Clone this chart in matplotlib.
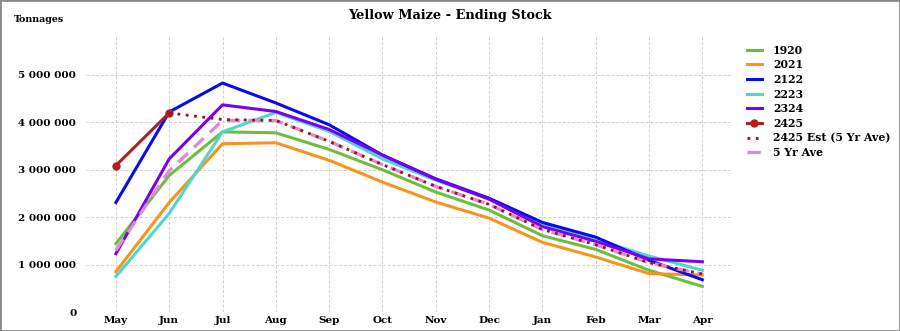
import matplotlib
matplotlib.use("Agg")
import matplotlib.pyplot as plt
from matplotlib.patches import Rectangle
import numpy as np

months = ["May", "Jun", "Jul", "Aug", "Sep", "Oct", "Nov", "Dec", "Jan", "Feb", "Mar", "Apr"]

s1920 = [1440000, 2880000, 3800000, 3780000, 3430000, 3000000, 2530000, 2150000, 1610000, 1320000, 880000, 540000]
s2021 = [850000, 2310000, 3550000, 3570000, 3200000, 2740000, 2320000, 1980000, 1470000, 1160000, 810000, 780000]
s2122 = [2310000, 4220000, 4830000, 4410000, 3950000, 3310000, 2810000, 2400000, 1890000, 1580000, 1090000, 680000]
s2223 = [750000, 2080000, 3800000, 4210000, 3810000, 3230000, 2780000, 2390000, 1850000, 1530000, 1180000, 880000]
s2324 = [1230000, 3230000, 4370000, 4230000, 3850000, 3310000, 2800000, 2380000, 1800000, 1490000, 1120000, 1060000]
s2425 = [3090000, 4200000]
s2425_est = [None, 4200000, 4060000, 4040000, 3600000, 3110000, 2650000, 2270000, 1740000, 1420000, 1040000, 800000]
s5yr = [1300000, 2980000, 4040000, 4040000, 3600000, 3110000, 2650000, 2270000, 1740000, 1420000, 1040000, 800000]

yticks = [0, 1000000, 2000000, 3000000, 4000000, 5000000]

fig = plt.figure(figsize=(9, 3.31), dpi=100)
ax = fig.add_axes([0.0956, 0.0574, 0.7174, 0.8306])

x = np.arange(len(months))
lw = 2.2
ax.plot(x, s1920, color="#6cbf3c", lw=lw, label="1920", zorder=3)
ax.plot(x, s2021, color="#f7941d", lw=lw, label="2021", zorder=3)
ax.plot(x, s2122, color="#0a0aee", lw=lw, label="2122", zorder=4)
ax.plot(x, s2223, color="#4fd6cf", lw=lw, label="2223", zorder=3)
ax.plot(x, s2324, color="#7a00f0", lw=lw, label="2324", zorder=4)
ax.plot(x[:len(s2425)], s2425, color="#b0201f", lw=lw, marker="o", ms=5, label="2425", zorder=6)
est_x = [i for i, v in enumerate(s2425_est) if v is not None]
est_y = [v for v in s2425_est if v is not None]
ax.plot(est_x, est_y, color="#a01010", lw=2.0, ls=(0, (1, 2)), label="2425 Est (5 Yr Ave)", zorder=6)
ax.plot(x, s5yr, color="#e08ad2", lw=2.4, ls=(0, (4, 2.5)), label="5 Yr Ave", zorder=5)

ax.set_xlim(-0.56, 11.55)
ax.set_ylim(0, 5800000)
ax.set_xticks(x)
ax.set_xticklabels(months)
ax.set_yticks(yticks)
ax.set_yticklabels([f"{v:,}".replace(",", " ") for v in yticks])

font = "DejaVu Serif"
for lab in ax.get_xticklabels() + ax.get_yticklabels():
    lab.set_fontfamily(font)
    lab.set_fontweight("bold")
    lab.set_fontsize(7.5)

ax.tick_params(axis="x", length=0, pad=3)
ax.tick_params(axis="y", length=0, pad=7)
ax.grid(True, color="#d0d0d0", ls=(0, (3, 2)), lw=0.7)
for sp in ax.spines.values():
    sp.set_visible(False)

fig.text(0.5, 0.952, "Yellow Maize - Ending Stock", ha="center", va="center",
         fontfamily=font, fontweight="bold", fontsize=9.3)
fig.text(0.015, 0.94, "Tonnages", ha="left", va="center",
         fontfamily=font, fontweight="bold", fontsize=6.8)

leg = fig.legend(loc="upper left", bbox_to_anchor=(0.819, 0.895), frameon=False,
                 prop={"family": font, "weight": "bold", "size": 7.8},
                 handlelength=1.4, labelspacing=0.34, handletextpad=1.0)

fig.patches.append(Rectangle((0, 0), 1, 1, transform=fig.transFigure, fill=False,
                             edgecolor="#8a8a8a", lw=2.0))

fig.savefig("out.png", dpi=100)
